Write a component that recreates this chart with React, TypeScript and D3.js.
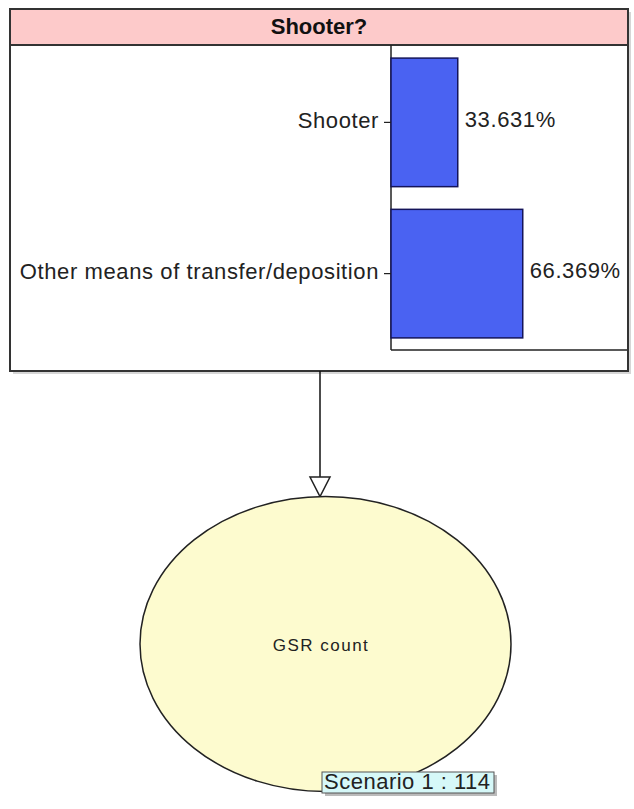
import React from "react";
import * as d3 from "d3";

const title = "Shooter?";
const categories = ["Shooter", "Other means of transfer/deposition"];
const values = [33.631, 66.369];
const childNode = "GSR count";
const scenarioLabel = "Scenario 1 : 114";

const W = 634;
const H = 809;
const FONT = "'Liberation Sans', Arial, sans-serif";

export default function App() {
  const box = { x: 10, y: 9, w: 618, h: 362, header: 36 };
  const axisX = 391;
  const x = d3.scaleLinear().domain([0, 100]).range([axisX, axisX + 198.5]);
  const y = d3
    .scaleBand<string>()
    .domain(categories)
    .range([box.y + box.header + 1, 350])
    .paddingInner(0.15)
    .paddingOuter(0.08);
  const bottomY = 350;

  const cx = 325.5;
  const cy = 644;
  const rx = 185.5;
  const ry = 147.5;
  const lineX = 320;
  const triTop = 477;
  const triTip = cy - ry;

  return (
    <svg
      width={W}
      height={H}
      style={{ position: "absolute", left: 0, top: 0, background: "#fff" }}
      fontFamily={FONT}
    >
      {/* box shadow */}
      <rect x={box.x + 3} y={box.y + 3} width={box.w} height={box.h} fill="#d6d6d6" />
      <rect x={box.x} y={box.y} width={box.w} height={box.h} fill="#fff" />
      <rect x={box.x} y={box.y} width={box.w} height={box.header} fill="#fdcaca" />
      <line x1={box.x} x2={box.x + box.w} y1={box.y + box.header} y2={box.y + box.header} stroke="#333" strokeWidth={2} />
      <text x={box.x + box.w / 2} y={box.y + box.header / 2 + 1} textAnchor="middle" dominantBaseline="middle" fontWeight="bold" fontSize={22} fill="#111">
        {title}
      </text>

      {/* axis */}
      <line x1={axisX} x2={axisX} y1={box.y + box.header} y2={bottomY} stroke="#222" strokeWidth={1.5} />
      <line x1={axisX} x2={box.x + box.w} y1={bottomY} y2={bottomY} stroke="#222" strokeWidth={1.5} />

      {categories.map((c, i) => {
        const by = y(c)!;
        const bh = y.bandwidth();
        const mid = by + bh / 2;
        return (
          <g key={c}>
            <rect x={x(0)} y={by} width={x(values[i]) - x(0)} height={bh} fill="#4a62f2" stroke="#14145a" strokeWidth={1.5} />
            <line x1={axisX - 7} x2={axisX} y1={mid} y2={mid} stroke="#222" strokeWidth={1.2} />
            <text x={axisX - 12} y={mid} textAnchor="end" dominantBaseline="middle" fontSize={22} letterSpacing={0.6} fill="#222">
              {c}
            </text>
            <text x={x(values[i]) + 7} y={mid - 1} dominantBaseline="middle" fontSize={22} letterSpacing={0.6} fill="#222">
              {values[i].toFixed(3) + "%"}
            </text>
          </g>
        );
      })}

      {/* box border */}
      <rect x={box.x} y={box.y} width={box.w} height={box.h} fill="none" stroke="#333" strokeWidth={2} />

      {/* arrow */}
      <line x1={lineX} x2={lineX} y1={box.y + box.h} y2={triTop} stroke="#111" strokeWidth={1.5} />
      <path d={`M${lineX - 10},${triTop} L${lineX + 10},${triTop} L${lineX},${triTip} Z`} fill="#fff" stroke="#222" strokeWidth={1.5} />

      {/* node */}
      <ellipse cx={cx} cy={cy} rx={rx} ry={ry} fill="#fdfbcf" stroke="#222" strokeWidth={1.5} />
      <text x={321} y={cy + 3} textAnchor="middle" dominantBaseline="middle" fontSize={17} letterSpacing={1.5} fill="#222">
        {childNode}
      </text>

      {/* scenario label */}
      <rect x={325} y={775} width={172} height={21} fill="#bbb" />
      <rect x={322} y={772} width={172} height={21} fill="#d6f8f8" stroke="#555" strokeWidth={1} />
      <text x={324} y={783} dominantBaseline="middle" fontSize={22} letterSpacing={0.5} fill="#222">
        {scenarioLabel}
      </text>
    </svg>
  );
}
